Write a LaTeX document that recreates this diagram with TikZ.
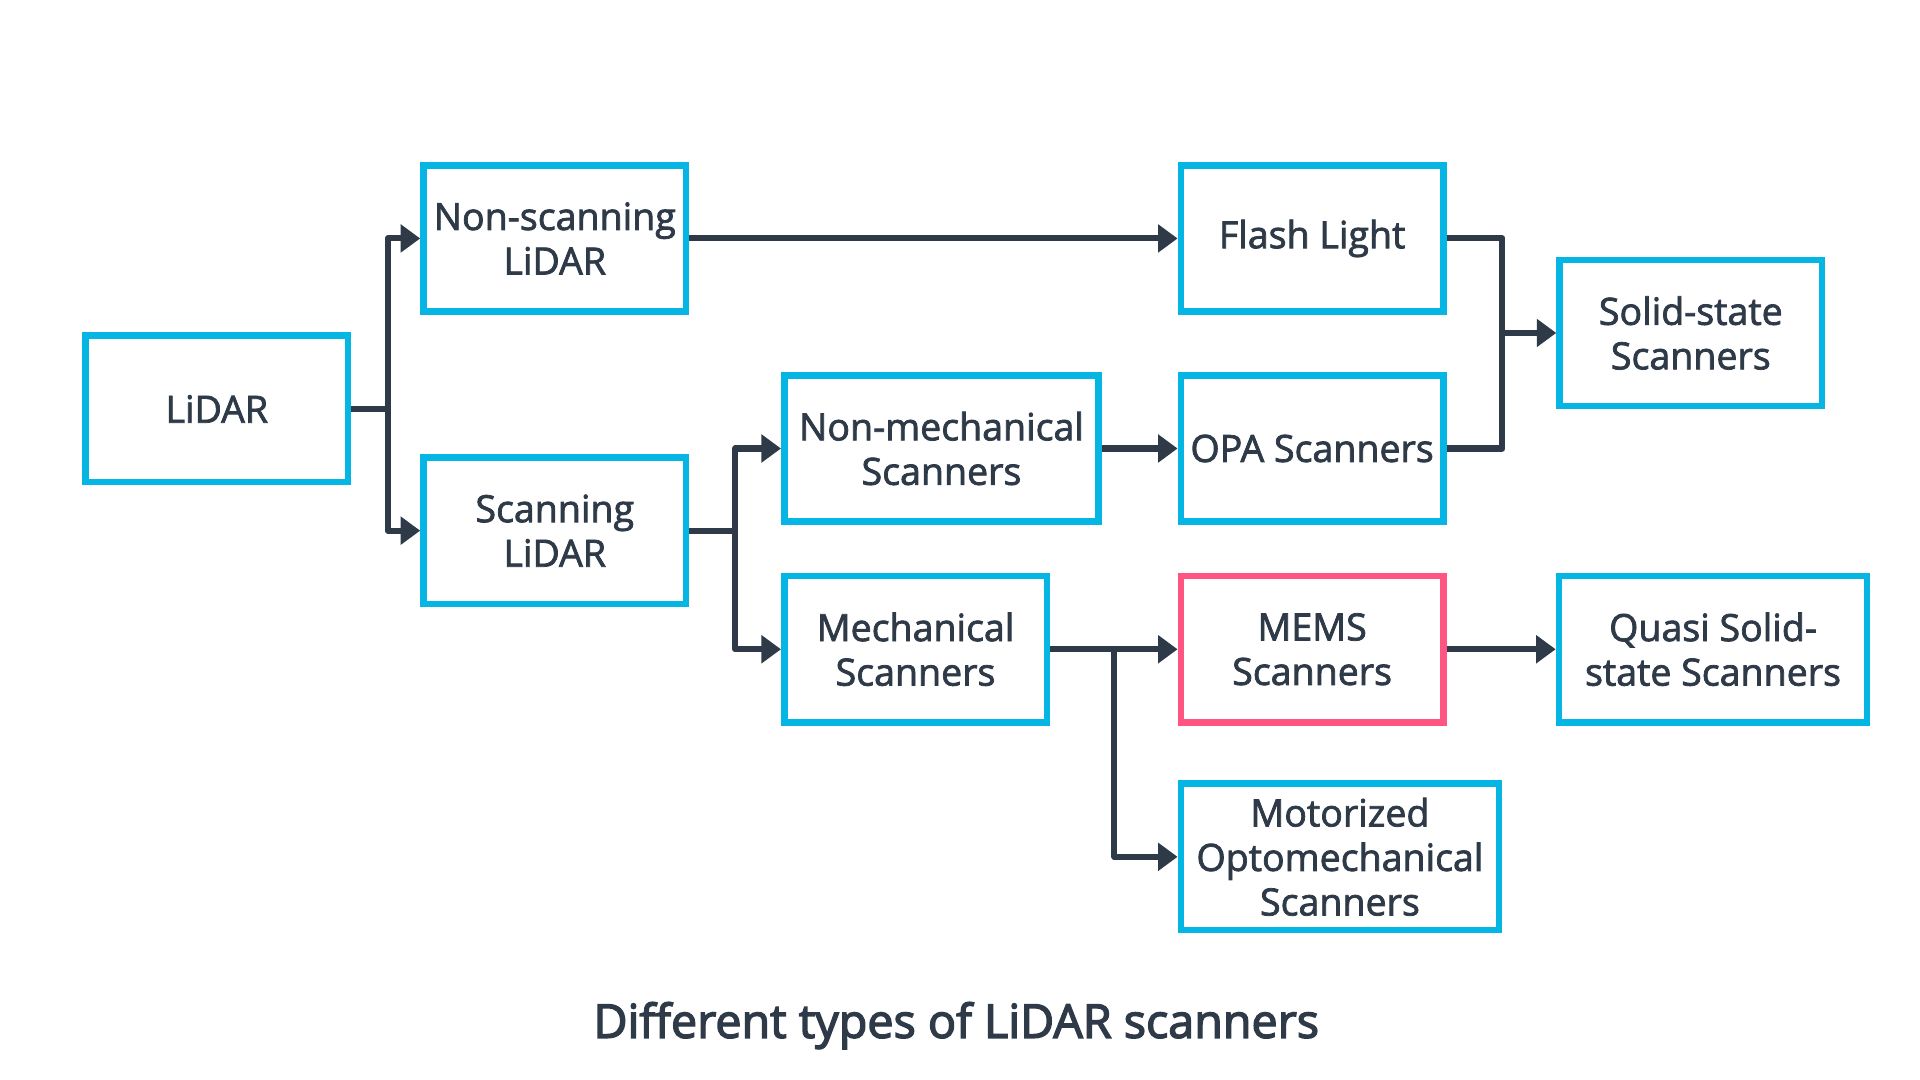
\documentclass[tikz,border=0pt]{standalone}
\usepackage{fontspec}
\setmainfont{Open Sans}[FakeBold=2]
\newfontfamily\capfont{Open Sans}[FakeBold=3]
\usetikzlibrary{arrows.meta}
\definecolor{boxblue}{HTML}{05B5E4}
\definecolor{boxpink}{HTML}{FF5582}
\definecolor{ink}{HTML}{2E3A48}
\begin{document}
\begin{tikzpicture}[
  box/.style={draw=boxblue,line width=3pt,minimum height=2.37cm,minimum width=4.25cm,
    align=center,text=ink,inner sep=0pt,font=\fontsize{17.3}{20.5}\selectfont},
  wire/.style={draw=ink,line width=2.8pt,line join=round},
  link/.style={wire,-{Triangle[length=9pt,width=12.5pt]}}]
\useasboundingbox (0,0) rectangle (31.08,17.48);
% boxes
\node[box] (lidar) at (3.51,10.86) {LiDAR};
\node[box] (nonscan) at (8.98,13.62) {Non-scanning\\LiDAR};
\node[box] (scan) at (8.98,8.89) {Scanning\\LiDAR};
\node[box,minimum width=5.09cm] (nonmech) at (15.24,10.22) {Non-mechanical\\Scanners};
\node[box] (mech) at (14.82,6.97) {Mechanical\\Scanners};
\node[box] (flash) at (21.24,13.62) {Flash Light};
\node[box] (opa) at (21.24,10.22) {OPA Scanners};
\node[box,draw=boxpink] (mems) at (21.24,6.97) {MEMS\\Scanners};
\node[box,minimum width=5.15cm] (motor) at (21.69,3.61) {Motorized\\Optomechanical\\Scanners};
\node[box] (solid) at (27.37,12.09) {Solid-state\\Scanners};
\node[box,minimum width=4.99cm] (quasi) at (27.73,6.97) {Quasi Solid-\\state Scanners};
% forks
\coordinate (fork1) at (6.28,10.86);
\coordinate (fork2) at (11.90,8.89);
\coordinate (fork3) at (18.04,6.97);
\coordinate (fork4) at (24.32,12.09);
% connectors
\draw[wire] (lidar.east) -- (fork1);
\draw[link] (fork1) |- (nonscan.west);
\draw[link] (fork1) |- (scan.west);
\draw[link] (nonscan.east) -- (flash.west);
\draw[wire] (scan.east) -- (fork2);
\draw[link] (fork2) |- (nonmech.west);
\draw[link] (fork2) |- (mech.west);
\draw[link] (nonmech.east) -- (opa.west);
\draw[wire] (flash.east) -| (fork4);
\draw[wire] (opa.east) -| (fork4);
\draw[link] (fork4) -- (solid.west);
\draw[link] (mech.east) -- (mems.west);
\draw[link] (fork3) |- (motor.west);
\draw[link] (mems.east) -- (quasi.west);
% caption
\node[font=\capfont\fontsize{21.5}{26}\selectfont,text=ink,anchor=base] (caption) at (15.48,0.68) {Different types of LiDAR scanners};
\end{tikzpicture}
\end{document}
